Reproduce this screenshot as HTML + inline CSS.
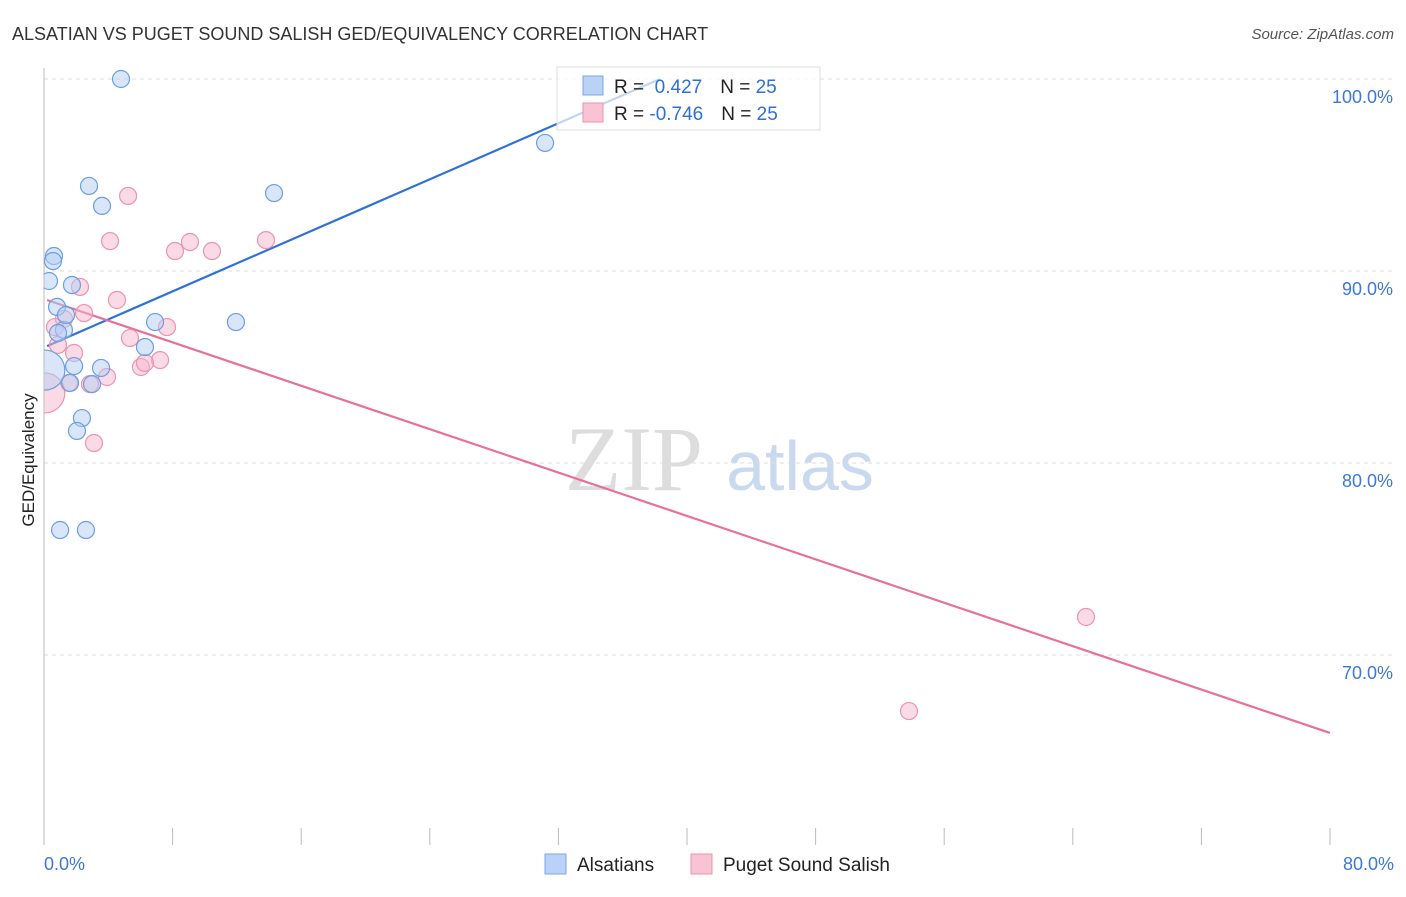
<!DOCTYPE html>
<html><head><meta charset="utf-8"><style>
body{margin:0;background:#fff;font-family:"Liberation Sans",sans-serif}
</style></head><body>
<svg id="c" width="1406" height="892" xmlns="http://www.w3.org/2000/svg">
<defs><clipPath id="plot"><rect x="44" y="60" width="1362" height="786"/></clipPath></defs>
<text x="12" y="40" font-size="18" fill="#333">ALSATIAN VS PUGET SOUND SALISH GED/EQUIVALENCY CORRELATION CHART</text>
<text x="1394" y="39" font-size="15" fill="#555" font-style="italic" text-anchor="end">Source: ZipAtlas.com</text>
<text x="34" y="460" font-size="17" fill="#222" text-anchor="middle" transform="rotate(-90 34 460)">GED/Equivalency</text>
<g><text x="634" y="490" font-size="92" fill="#ddd" text-anchor="middle" font-family="Liberation Serif">ZIP</text><text x="800" y="490" font-size="70" fill="#c9d9ef" text-anchor="middle">atlas</text></g>
<g id="grid"></g><g id="axes"></g><g id="trend" clip-path="url(#plot)"></g><g id="pts" clip-path="url(#plot)"></g>
<g>
<rect x="557" y="67" width="263" height="63" fill="#fff" fill-opacity="0.7" stroke="#ddd"/>
<rect x="583" y="76" width="20" height="19" fill="#b9d2f5" stroke="#7aa6e6"/>
<rect x="583" y="103" width="20" height="19" fill="#f8c3d2" stroke="#ec93ad"/>
<text x="614" y="93" font-size="19" fill="#222">R = <tspan fill="#2f6fd6">&#160;0.427</tspan><tspan dx="18">N = </tspan><tspan fill="#2f6fd6">25</tspan></text>
<text x="614" y="120" font-size="19" fill="#222">R = <tspan fill="#2f6fd6">-0.746</tspan><tspan dx="18">N = </tspan><tspan fill="#2f6fd6">25</tspan></text>
</g>
<g>
<rect x="545" y="854" width="21" height="20" fill="#b9d2f5" stroke="#7aa6e6"/>
<text x="577" y="871" font-size="19" fill="#222">Alsatians</text>
<rect x="691" y="854" width="21" height="20" fill="#f8c3d2" stroke="#ec93ad"/>
<text x="723" y="871" font-size="19" fill="#222">Puget Sound Salish</text>
</g>
</svg>
<script>
const yTicks=[100,90,80,70];
const xTickLabels=["0.0%","80.0%"];
const blueX=[4.79,2.80,3.61,14.31,31.17,0.62,0.56,0.31,1.74,0.81,1.24,1.37,0.87,1.87,3.55,1.62,2.99,6.91,11.94,6.28,2.36,2.05,1.0,2.61,0.05];
const blueY=[100.0,94.43,93.39,94.06,96.67,90.78,90.52,89.48,89.27,88.13,86.93,87.71,86.77,85.05,84.95,84.17,84.11,87.34,87.34,86.04,82.34,81.67,76.51,76.51,84.84];
const pinkX=[5.23,4.11,8.15,9.08,10.45,13.81,2.24,4.54,2.49,1.24,0.68,0.87,1.87,5.35,7.65,7.22,6.03,6.28,3.92,1.56,3.11,0.05,64.82,53.81,2.86];
const pinkY=[93.91,91.56,91.04,91.51,91.04,91.61,89.17,88.49,87.81,87.50,87.08,86.15,85.73,86.51,87.08,85.36,85.0,85.21,84.48,84.17,81.04,83.65,71.98,67.08,84.11];
const blueTrend=[[0.19,86.09],[38.32,100.0]];
const pinkTrend=[[0.19,88.49],[80,65.94]];
const X=v=>44+v/80*1286, Y=v=>79+(100-v)*19.2;
const NS="http://www.w3.org/2000/svg";
function mk(t,a,p){const e=document.createElementNS(NS,t);for(const k in a)e.setAttribute(k,a[k]);p.appendChild(e);return e;}
const grid=document.getElementById('grid'),axes=document.getElementById('axes');
yTicks.forEach(t=>{
 const l=mk('line',{x1:44,x2:1394,y1:Y(t),y2:Y(t),stroke:'#ddd','stroke-dasharray':'4,4'},grid);
 
 
 const tx=mk('text',{x:1393,y:Y(t)+24,'font-size':18,fill:'#3b78d8','text-anchor':'end'},grid);
 tx.textContent=t.toFixed(1)+'%';
 
 
});
const ya=mk('line',{x1:44,x2:44,y1:68,y2:845,stroke:'#bbb'},axes);


for(let i=1;i<=10;i++){const x=X(i*8);const t=mk('line',{x1:x,x2:x,y1:828,y2:845,stroke:'#bbb'},axes);
 
 }
[[0,'start',44],[80,'end',1394]].forEach((d,i)=>{const t=mk('text',{x:d[2],y:870,'font-size':18,fill:'#3b78d8','text-anchor':d[1]},axes);t.textContent=xTickLabels[i];
 
 });
const tr=document.getElementById('trend');
const bl=mk('line',{x1:X(blueTrend[0][0]),y1:Y(blueTrend[0][1]),x2:X(blueTrend[1][0]),y2:Y(blueTrend[1][1]),stroke:'#2f72d6','stroke-width':2.2},tr);


const pl=mk('line',{x1:X(pinkTrend[0][0]),y1:Y(pinkTrend[0][1]),x2:X(pinkTrend[1][0]),y2:Y(pinkTrend[1][1]),stroke:'#e8709a','stroke-width':2.2},tr);


const pts=document.getElementById('pts');
function dots(xs,ys,fill,stroke,name){xs.forEach((x,i)=>{const r=(x<0.1)?20:8.5;
 const c=mk('circle',{cx:X(x),cy:Y(ys[i]),r:r,fill:fill,'fill-opacity':0.5,stroke:stroke,'stroke-width':1.2},pts);
 
 });}
dots(pinkX,pinkY,'#f6b8cb','#ec93ad','puget-point');
dots(blueX,blueY,'#b3cdf3','#6a9fe4','alsatians-point');
</script>
</body></html>
